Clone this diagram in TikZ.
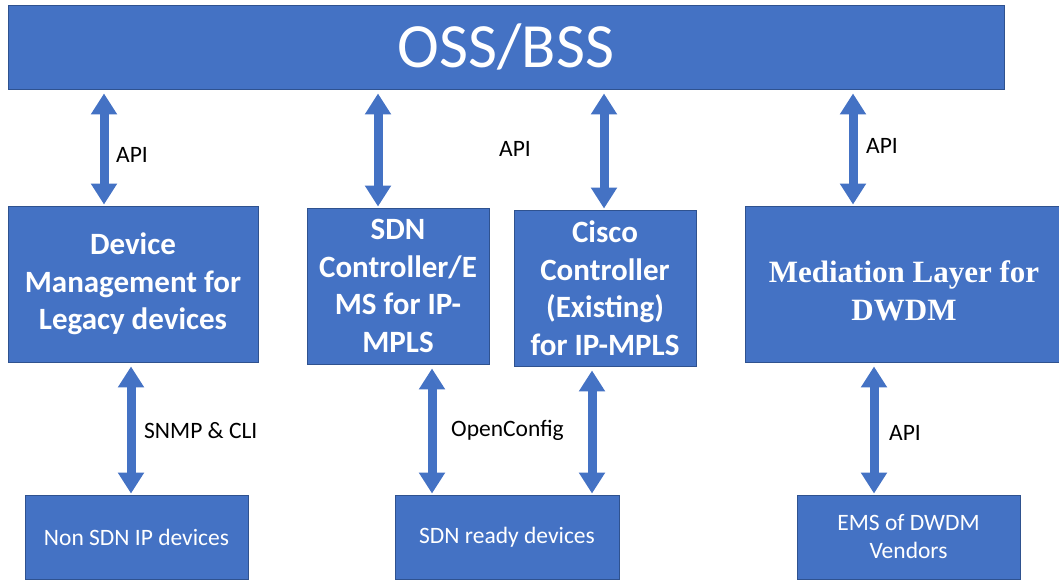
\documentclass[tikz,border=0pt]{standalone}
\usepackage{fontspec}
\setmainfont{Carlito}
\newfontfamily\medfont{Liberation Serif}
\usetikzlibrary{arrows.meta}
\definecolor{boxblue}{HTML}{4472C4}
\definecolor{edgeblue}{HTML}{2F528F}

\begin{document}
\begin{tikzpicture}[x=1pt,y=-1pt,
    box/.style={draw=edgeblue,line width=0.9pt,fill=boxblue,text=white,align=center,inner sep=0pt},
    bigtxt/.style={font=\fontsize{31}{37.5}\selectfont\bfseries},
    smalltxt/.style={font=\fontsize{23.5}{28}\selectfont},
    link/.style={boxblue,line width=9pt,{Triangle[width=25pt,length=21pt]}-{Triangle[width=25pt,length=21pt]},shorten <=4pt,shorten >=1pt},
    lbl/.style={font=\fontsize{23.5}{26}\selectfont,anchor=west,inner sep=0pt}]
        \useasboundingbox (0,0) rectangle (1059,580);
        % top bar
        \node[box,minimum width=996,minimum height=84,font=\fontsize{63}{63}\selectfont] (oss) at (506,47) {OSS/BSS};
        % middle row
        \node[box,bigtxt,minimum width=250,minimum height=156] (dev) at (133,284) {Device\\Management for\\Legacy devices};
        \node[box,bigtxt,minimum width=182,minimum height=156] (sdn) at (398,286) {SDN\\Controller/E\\MS for IP-\\MPLS};
        \node[box,bigtxt,minimum width=182,minimum height=156] (cisco) at (605,288) {Cisco\\Controller\\(Existing)\\for IP-MPLS};
        \node[box,minimum width=318,minimum height=156] (med) at (904,284) {};
        \node[text=white,align=center,font=\fontsize{31}{38}\medfont\bfseries] (medtxt) at ([yshift=-7]med.center) {Mediation Layer for\\DWDM};
        % bottom row
        \node[box,smalltxt,minimum width=223,minimum height=84] (nonsdn) at (136.5,537) {Non SDN IP devices};
        \node[box,smalltxt,minimum width=224,minimum height=84] (sdnrdy) at (507,537) {SDN ready devices};
        \node[box,smalltxt,minimum width=223,minimum height=84] (ems) at (908.5,537) {EMS of DWDM\\Vendors};
        % connectors
        \foreach \p/\q/\x in {oss/dev/104,oss/sdn/378,oss/cisco/604,oss/med/853}{
          \path (\x,0) coordinate (cx);
          \draw[link] (\p.south -| cx) -- (\q.north -| cx);
        }
        \foreach \p/\q/\x in {dev/nonsdn/131,sdn/sdnrdy/432,cisco/sdnrdy/592,med/ems/874}{
          \path (\x,0) coordinate (cx);
          \draw[link] (\p.south -| cx) -- (\q.north -| cx);
        }
        % labels
        \node[lbl] (api1) at (116,155) {API};
        \node[lbl] (api2) at (499,149) {API};
        \node[lbl] (api3) at (866,146) {API};
        \node[lbl] (snmp) at (144,431) {SNMP \& CLI};
        \node[lbl] (ocfg) at (451,430) {OpenConfig};
        \node[lbl] (api4) at (889,433) {API};
\end{tikzpicture}
\end{document}
